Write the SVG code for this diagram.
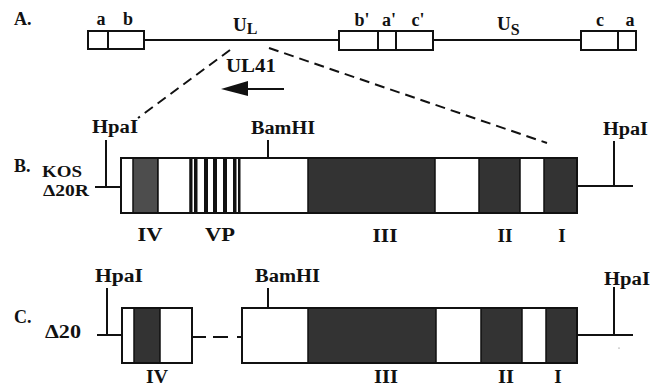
<svg xmlns="http://www.w3.org/2000/svg" width="663" height="390" viewBox="0 0 663 390">
  <style>
    text { font-family: "Liberation Serif", "Times New Roman", serif; font-weight: bold; fill: #111; }
    .lbl { font-size: 18px; }
    .big { font-size: 19px; }
    .sm { font-size: 16px; }
    .sub { font-size: 16px; }
    .ln { stroke: #111; stroke-width: 2; fill: none; }
    .box { stroke: #111; stroke-width: 2; fill: #fff; }
    .dk { fill: #333; stroke: #111; stroke-width: 1.5; }
    .dk2 { fill: #4d4d4d; stroke: #111; stroke-width: 1.5; }
    .wt { fill: #fff; stroke: #111; stroke-width: 1.5; }
    .dash { stroke: #111; stroke-width: 2; fill: none; stroke-dasharray: 10 6; }
    .bar { fill: #111; }
  </style>

  <!-- Panel labels -->
  <g id="panel-labels">
    <text class="lbl" x="14" y="25">A.</text>
    <text class="lbl" x="14" y="172">B.</text>
    <text class="lbl" x="14" y="323">C.</text>
  </g>

  <!-- A: genome map -->
  <g id="genome">
    <line class="ln" x1="145" y1="40" x2="340" y2="40"/>
    <line class="ln" x1="433" y1="40" x2="581" y2="40"/>
    <g id="repeat-left">
      <rect class="box" x="88" y="31" width="56" height="18"/>
      <line class="ln" x1="108" y1="31" x2="108" y2="49"/>
      <text class="lbl" x="101" y="25" text-anchor="middle">a</text>
      <text class="lbl" x="128" y="25" text-anchor="middle">b</text>
    </g>
    <g id="repeat-middle">
      <rect class="box" x="339" y="31" width="94" height="19"/>
      <line class="ln" x1="378" y1="31" x2="378" y2="50"/>
      <line class="ln" x1="396" y1="31" x2="396" y2="50"/>
      <text class="lbl" x="362" y="26" text-anchor="middle">b'</text>
      <text class="lbl" x="389" y="26" text-anchor="middle">a'</text>
      <text class="lbl" x="418" y="26" text-anchor="middle">c'</text>
    </g>
    <g id="repeat-right">
      <rect class="box" x="581" y="31" width="55" height="19"/>
      <line class="ln" x1="618" y1="31" x2="618" y2="50"/>
      <text class="lbl" x="600" y="26" text-anchor="middle">c</text>
      <text class="lbl" x="630" y="26" text-anchor="middle">a</text>
    </g>
    <g id="UL">
      <text class="big" x="233" y="31">U<tspan class="sub" dy="3">L</tspan></text>
    </g>
    <g id="US">
      <text class="big" x="497" y="30">U<tspan class="sub" dy="5">S</tspan></text>
    </g>
  </g>

  <g id="connectors">
    <line class="dash" x1="230" y1="50" x2="138" y2="118"/>
    <line class="dash" x1="269" y1="48" x2="547" y2="143"/>
    <!-- UL41 transcription direction -->
    <line class="ln" x1="284" y1="89" x2="246" y2="89" stroke-width="2.5"/>
    <path d="M248,81 L221,89 L248,96 Z" fill="#111"/>
    <!-- deletion gap in the delta20 map -->
    <line class="ln" x1="192" y1="337" x2="206" y2="337"/>
    <line class="ln" x1="213" y1="337" x2="228" y2="337"/>
    <line class="ln" x1="237" y1="337" x2="242" y2="337"/>
  </g>

  <g id="UL41">
    <text class="lbl" x="226" y="72" textLength="50" lengthAdjust="spacingAndGlyphs">UL41</text>
  </g>

  <!-- B: KOS delta20R map -->
  <g id="kos-d20r">
    <text class="sm" x="42" y="177" textLength="40" lengthAdjust="spacingAndGlyphs">KOS</text>
    <text class="sm" x="43" y="196" textLength="46" lengthAdjust="spacingAndGlyphs">Δ20R</text>
    <g id="B-hpaI-left">
      <line class="ln" x1="106" y1="140" x2="106" y2="187"/>
      <line class="ln" x1="95" y1="187" x2="121" y2="187"/>
      <text class="lbl" x="92" y="133" textLength="46" lengthAdjust="spacingAndGlyphs">HpaI</text>
    </g>
    <g id="B-bamHI">
      <line class="ln" x1="268" y1="140" x2="268" y2="158"/>
      <text class="lbl" x="251" y="134" textLength="64" lengthAdjust="spacingAndGlyphs">BamHI</text>
    </g>
    <g id="B-hpaI-right">
      <line class="ln" x1="614" y1="141" x2="614" y2="186"/>
      <line class="ln" x1="577" y1="186" x2="633" y2="186"/>
      <text class="lbl" x="603" y="135" textLength="45" lengthAdjust="spacingAndGlyphs">HpaI</text>
    </g>
    <rect class="box" x="121" y="158" width="456" height="55"/>
    <rect class="dk2" x="133" y="158" width="25" height="55"/>
    <rect class="wt" x="158" y="158" width="32" height="55"/>
    <g id="B-VP">
      <rect x="190" y="158" width="50" height="55" fill="#fff"/>
      <rect class="bar" x="190" y="158" width="2.5" height="55"/>
      <rect class="bar" x="194" y="158" width="3.5" height="55"/>
      <rect class="bar" x="204" y="158" width="4" height="55"/>
      <rect class="bar" x="213" y="158" width="4" height="55"/>
      <rect class="bar" x="223" y="158" width="4" height="55"/>
      <rect class="bar" x="233" y="158" width="3.5" height="55"/>
      <rect class="bar" x="238" y="158" width="2.5" height="55"/>
    </g>
    <rect class="dk" x="308" y="158" width="127" height="55"/>
    <rect class="dk" x="479" y="158" width="41" height="55"/>
    <rect class="dk" x="544" y="158" width="33" height="55"/>
    <rect x="121" y="158" width="456" height="55" fill="none" stroke="#111" stroke-width="2"/>
    <text class="big" x="150" y="241" text-anchor="middle" textLength="25" lengthAdjust="spacingAndGlyphs">IV</text>
    <text class="big" x="220" y="241" text-anchor="middle" textLength="30" lengthAdjust="spacingAndGlyphs">VP</text>
    <text class="big" x="385" y="242" text-anchor="middle" textLength="25" lengthAdjust="spacingAndGlyphs">III</text>
    <text class="big" x="505" y="242" text-anchor="middle" textLength="15" lengthAdjust="spacingAndGlyphs">II</text>
    <text class="big" x="562" y="242" text-anchor="middle">I</text>
  </g>

  <!-- C: delta20 map -->
  <g id="d20">
    <text class="lbl" x="45" y="338" textLength="36" lengthAdjust="spacingAndGlyphs">Δ20</text>
    <g id="C-hpaI-left">
      <line class="ln" x1="107" y1="288" x2="107" y2="335"/>
      <line class="ln" x1="97" y1="335" x2="122" y2="335"/>
      <text class="lbl" x="95" y="282" textLength="48" lengthAdjust="spacingAndGlyphs">HpaI</text>
    </g>
    <g id="C-bamHI">
      <line class="ln" x1="268" y1="288" x2="268" y2="308"/>
      <text class="lbl" x="255" y="282" textLength="65" lengthAdjust="spacingAndGlyphs">BamHI</text>
    </g>
    <g id="C-hpaI-right">
      <line class="ln" x1="614" y1="287" x2="614" y2="335"/>
      <line class="ln" x1="577" y1="335" x2="633" y2="335"/>
      <text class="lbl" x="604" y="285" textLength="46" lengthAdjust="spacingAndGlyphs">HpaI</text>
      <circle cx="619" cy="348" r="0.6" fill="#666"/>
    </g>
    <g id="C-left-segment">
      <rect class="box" x="122" y="308" width="70" height="55"/>
      <rect class="dk" x="134" y="308" width="26" height="55"/>
      <rect x="122" y="308" width="70" height="55" fill="none" stroke="#111" stroke-width="2"/>
    </g>
    <g id="C-right-segment">
      <rect class="box" x="242" y="308" width="335" height="55"/>
      <rect class="dk" x="308" y="308" width="128" height="55"/>
      <rect class="dk" x="481" y="308" width="41" height="55"/>
      <rect class="dk" x="546" y="308" width="31" height="55"/>
      <rect x="242" y="308" width="335" height="55" fill="none" stroke="#111" stroke-width="2"/>
    </g>
    <text class="big" x="157" y="383" text-anchor="middle" textLength="22" lengthAdjust="spacingAndGlyphs">IV</text>
    <text class="big" x="386" y="383" text-anchor="middle" textLength="24" lengthAdjust="spacingAndGlyphs">III</text>
    <text class="big" x="506" y="383" text-anchor="middle" textLength="16" lengthAdjust="spacingAndGlyphs">II</text>
    <text class="big" x="558" y="383" text-anchor="middle">I</text>
  </g>
</svg>
